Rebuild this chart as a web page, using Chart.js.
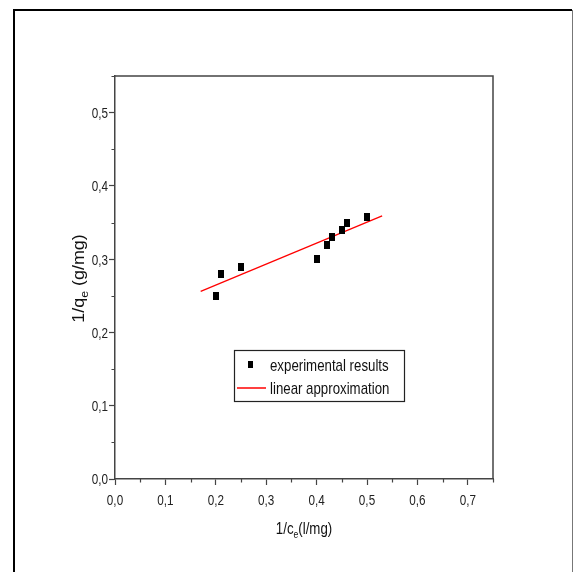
<!DOCTYPE html>
<html>
<head>
<meta charset="utf-8">
<script src="https://cdn.jsdelivr.net/npm/chart.js@4.4.1/dist/chart.umd.min.js"></script>
<style>
  html, body { margin: 0; padding: 0; background: #fff; }
  canvas { display: block; }
</style>
</head>
<body>
<canvas id="chart" width="574" height="572"></canvas>
<script>
// Langmuir linearisation: 1/qe against 1/ce
const invConc   = [0.20, 0.21, 0.25, 0.40, 0.42, 0.43, 0.45, 0.46, 0.50];        // 1/ce (l/mg)
const invUptake = [0.250, 0.280, 0.290, 0.300, 0.320, 0.330, 0.340, 0.350, 0.357]; // 1/qe (g/mg)

// end points of the fitted straight line
const fitX = [0.17, 0.53];
const fitY = [0.256, 0.359];

const xTickLabels = ['0,0', '0,1', '0,2', '0,3', '0,4', '0,5', '0,6', '0,7'];
const yTickLabels = ['0,0', '0,1', '0,2', '0,3', '0,4', '0,5'];

const seriesNames = ['experimental results', 'linear approximation'];

const FONT = '"Liberation Sans", Arial, sans-serif';
const NARROW_X = 0.78;   // horizontal squeeze giving a narrow face
const AXIS = '#444';

function rectMarker(w, h) {
  const c = document.createElement('canvas');
  c.width = w; c.height = h;
  const g = c.getContext('2d');
  g.fillStyle = '#000';
  g.fillRect(0, 0, w, h);
  return c;
}
const marker = rectMarker(6, 8);
const legendMarker = rectMarker(5, 7);

// hundredths of a tick value; multiples of 10 are the labelled (major) ticks
const isMajor = v => Math.round(v * 100) % 10 === 0;

function tickLabeler(labels) {
  return function (value) {
    if (!isMajor(value)) return '';
    return labels[Math.round(value * 10)] ?? '';
  };
}

// draw a run of [text, sizePx, baselineShift] pieces with a horizontal squeeze
function drawRun(ctx, pieces, x, y, align, sx) {
  const widths = pieces.map(([t, s]) => { ctx.font = s + 'px ' + FONT; return ctx.measureText(t).width * sx; });
  const total = widths.reduce((p, q) => p + q, 0);
  let cx = align === 'center' ? x - total / 2 : align === 'right' ? x - total : x;
  pieces.forEach(([t, s, dy], i) => {
    ctx.save();
    ctx.font = s + 'px ' + FONT;
    ctx.translate(cx, y + (dy || 0));
    ctx.scale(sx, 1);
    ctx.textAlign = 'left';
    ctx.fillText(t, 0, 0);
    ctx.restore();
    cx += widths[i];
  });
  return total;
}

const decor = {
  id: 'decor',
  beforeDraw(chart) {
    const ctx = chart.ctx;
    ctx.save();
    ctx.fillStyle = '#fff';
    ctx.fillRect(0, 0, chart.width, chart.height);
    // page frame
    ctx.strokeStyle = '#000';
    ctx.lineWidth = 2;
    ctx.beginPath();
    ctx.moveTo(14, 572);
    ctx.lineTo(14, 10);
    ctx.lineTo(572, 10);
    ctx.stroke();
    ctx.strokeStyle = '#777';
    ctx.lineWidth = 1;
    ctx.beginPath();
    ctx.moveTo(572.5, 10);
    ctx.lineTo(572.5, 572);
    ctx.stroke();
    ctx.restore();
  },
  afterDraw(chart) {
    const { ctx, chartArea: a, scales } = chart;
    const xs = scales.x, ys = scales.y;
    ctx.save();

    // top and right sides of the plot box
    ctx.strokeStyle = AXIS;
    ctx.lineWidth = 1.5;
    ctx.beginPath();
    ctx.moveTo(a.left, a.top);
    ctx.lineTo(a.right, a.top);
    ctx.lineTo(a.right, a.bottom);
    ctx.stroke();

    // minor ticks
    ctx.lineWidth = 1.2;
    ctx.beginPath();
    xs.ticks.forEach(t => {
      if (isMajor(t.value)) return;
      const px = Math.round(xs.getPixelForValue(t.value)) + 0.5;
      ctx.moveTo(px, a.bottom);
      ctx.lineTo(px, a.bottom + 3.5);
    });
    ys.ticks.forEach(t => {
      if (isMajor(t.value)) return;
      const py = Math.round(ys.getPixelForValue(t.value)) + 0.5;
      ctx.moveTo(a.left, py);
      ctx.lineTo(a.left - 3.5, py);
    });
    ctx.stroke();

    ctx.textBaseline = 'alphabetic';

    // tick labels, taken from each scale's own ticks
    ctx.fillStyle = '#222';
    xs.ticks.forEach(t => {
      if (!t.label) return;
      drawRun(ctx, [[t.label, 15]], xs.getPixelForValue(t.value), a.bottom + 26, 'center', NARROW_X);
    });
    ys.ticks.forEach(t => {
      if (!t.label) return;
      drawRun(ctx, [[t.label, 15]], a.left - 7, ys.getPixelForValue(t.value) + 5.4, 'right', NARROW_X);
    });

    ctx.fillStyle = '#111';
    // x axis title: 1/ce(l/mg)
    drawRun(ctx, [['1/c', 17], ['e', 11, 4], ['(l/mg)', 17]], (a.left + a.right) / 2, 534, 'center', NARROW_X);

    // y axis title: 1/qe (g/mg), rotated and slightly widened
    {
      const pieces = [['1/q', 16], ['e', 11, 4], [' (g/mg)', 16]];
      const sx = 1.12;
      let total = 0;
      pieces.forEach(([t, s]) => { ctx.font = s + 'px ' + FONT; total += ctx.measureText(t).width * sx; });
      ctx.save();
      ctx.translate(83.5, (a.top + a.bottom) / 2 + 1 + total / 2);
      ctx.rotate(-Math.PI / 2);
      drawRun(ctx, pieces, 0, 0, 'left', sx);
      ctx.restore();
    }

    // legend box
    {
      const ds = chart.data.datasets;
      ctx.strokeStyle = '#222';
      ctx.lineWidth = 1.2;
      ctx.strokeRect(234.5, 350.5, 170, 51);
      ctx.drawImage(legendMarker, 250 - 2.5, 364 - 3.5);
      ctx.strokeStyle = ds[1].borderColor;
      ctx.lineWidth = 1.5;
      ctx.beginPath();
      ctx.moveTo(237, 388);
      ctx.lineTo(266, 388);
      ctx.stroke();
      ctx.fillStyle = '#111';
      drawRun(ctx, [[ds[0].label, 17]], 270, 371, 'left', NARROW_X);
      drawRun(ctx, [[ds[1].label, 17]], 270, 394, 'left', NARROW_X);
    }
    ctx.restore();
  }
};

function axisOptions(max, labels, sizeFix) {
  return {
    type: 'linear',
    min: 0, max: max,
    afterFit: sizeFix,
    border: { color: AXIS, width: 1.5 },
    grid: {
      drawOnChartArea: false,
      tickLength: 6,
      tickWidth: 1.2,
      tickColor: c => isMajor(c.tick.value) ? AXIS : 'rgba(0,0,0,0)'
    },
    ticks: {
      display: false,
      stepSize: 0.05,
      autoSkip: false,
      maxRotation: 0,
      callback: tickLabeler(labels)
    }
  };
}

new Chart(document.getElementById('chart'), {
  type: 'scatter',
  data: {
    datasets: [
      {
        label: seriesNames[0],
        data: invConc.map((v, i) => ({ x: v, y: invUptake[i] })),
        pointStyle: marker,
        backgroundColor: '#000',
        borderColor: '#000',
        order: 1
      },
      {
        label: seriesNames[1],
        type: 'line',
        data: fitX.map((v, i) => ({ x: v, y: fitY[i] })),
        borderColor: '#ff0000',
        borderWidth: 1.3,
        pointRadius: 0,
        fill: false,
        order: 2
      }
    ]
  },
  options: {
    responsive: false,
    animation: false,
    devicePixelRatio: 1,
    layout: { padding: { top: 76, right: 81, left: 0, bottom: 0 } },
    plugins: { legend: { display: false }, tooltip: { enabled: false } },
    scales: {
      x: axisOptions(0.75, xTickLabels, s => { s.height = 93; }),
      y: axisOptions(0.55, yTickLabels, s => { s.width = 115; })
    }
  },
  plugins: [decor]
});
</script>
</body>
</html>
